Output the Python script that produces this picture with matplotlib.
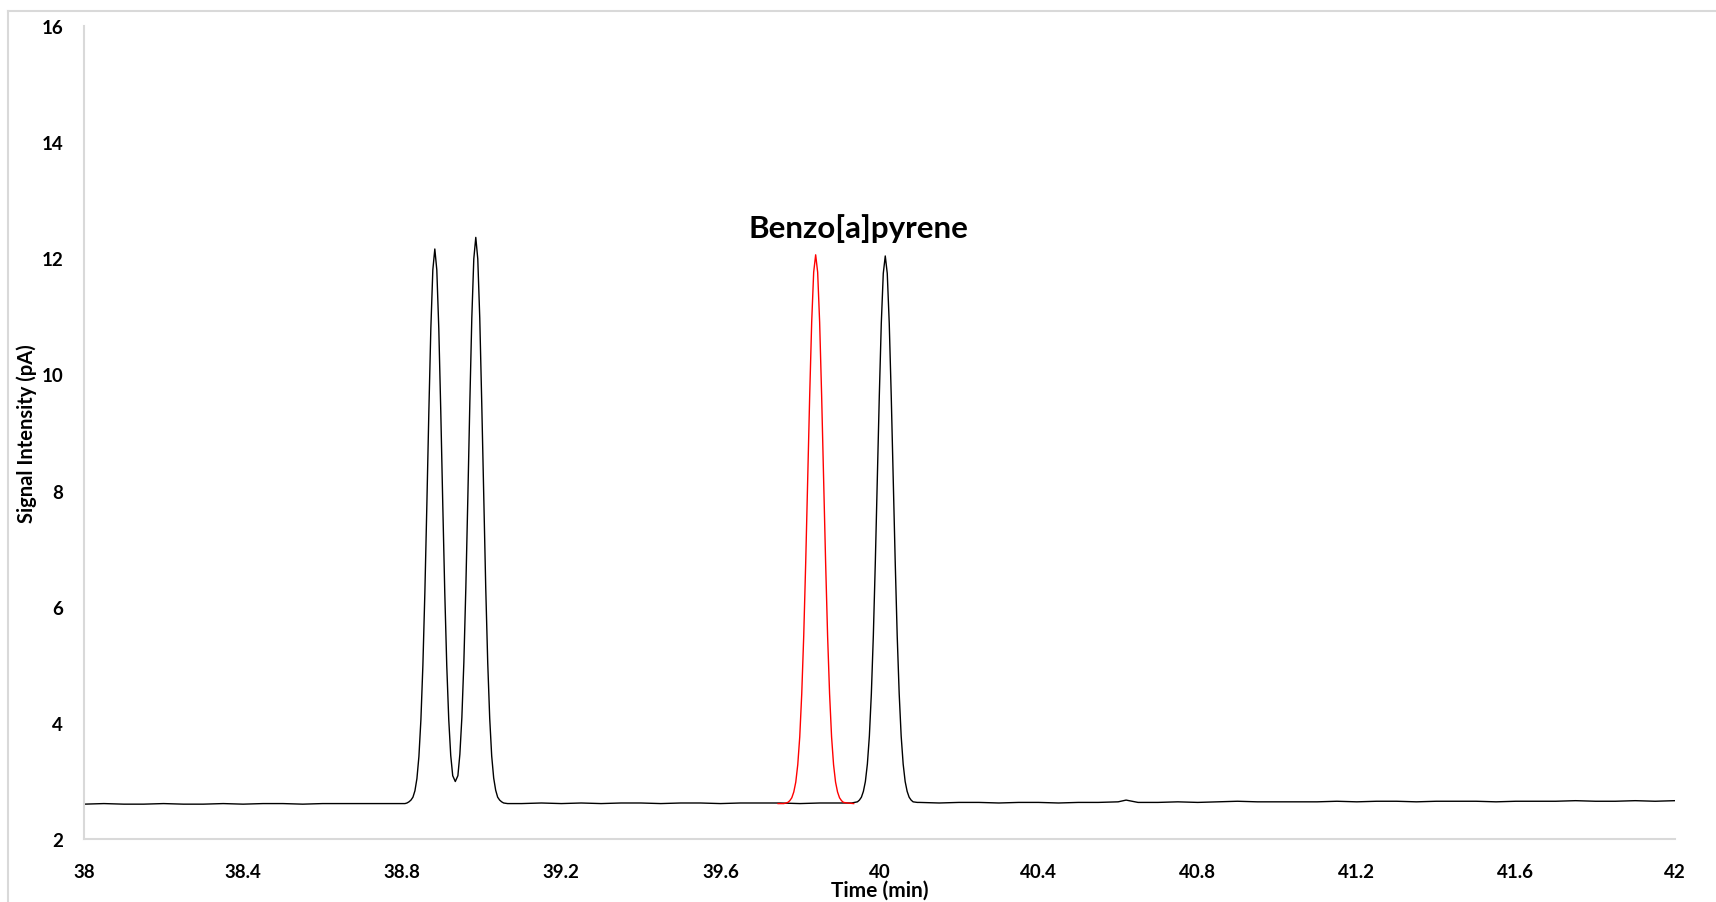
import matplotlib.pyplot as plt
from matplotlib.lines import Line2D

# chromatogram trace (black)
time_min = [38.00, 38.05, 38.10, 38.15, 38.20, 38.25, 38.30, 38.35, 38.40, 38.45,
            38.50, 38.55, 38.60, 38.65, 38.70, 38.75, 38.78, 38.80, 38.807,
            38.812, 38.817, 38.822, 38.827, 38.832, 38.837, 38.842, 38.847, 38.852, 38.857,
            38.862, 38.867, 38.872, 38.877, 38.882, 38.887, 38.892, 38.897, 38.902, 38.907,
            38.912, 38.917, 38.922, 38.927, 38.9335, 38.940, 38.945, 38.950, 38.955, 38.960,
            38.965, 38.970, 38.975, 38.980, 38.985, 38.990, 38.995, 39.000, 39.005, 39.010,
            39.015, 39.020, 39.025, 39.030, 39.035, 39.040, 39.045, 39.050, 39.055, 39.065,
            39.10, 39.15, 39.20, 39.25, 39.30, 39.35, 39.40, 39.45, 39.50, 39.55,
            39.60, 39.65, 39.70, 39.75, 39.80, 39.85, 39.90, 39.93,
            39.9445, 39.9495, 39.9545, 39.9595, 39.9645, 39.9695, 39.9745, 39.9795, 39.9845,
            39.9895, 39.9945, 39.9995, 40.0045, 40.0095, 40.0145, 40.0195, 40.0245, 40.0295,
            40.0345, 40.0395, 40.0445, 40.0495, 40.0545, 40.0595, 40.0645, 40.0695, 40.0745,
            40.0795, 40.0845, 40.095,
            40.10, 40.15, 40.20, 40.25, 40.30, 40.35, 40.40,
            40.45, 40.50, 40.55, 40.60, 40.62, 40.65, 40.70, 40.75, 40.80, 40.85,
            40.90, 40.95, 41.00, 41.05, 41.10, 41.15, 41.20, 41.25, 41.30, 41.35,
            41.40, 41.45, 41.50, 41.55, 41.60, 41.65, 41.70, 41.75, 41.80, 41.85,
            41.90, 41.95, 42.00]
signal_pA = [2.60, 2.61, 2.60, 2.60, 2.61, 2.60, 2.60, 2.61, 2.60, 2.61,
             2.61, 2.60, 2.61, 2.61, 2.61, 2.61, 2.61, 2.61, 2.61,
             2.62, 2.64, 2.67, 2.72, 2.83, 3.04, 3.42, 4.05, 4.99, 6.25,
             7.76, 9.36, 10.79, 11.80, 12.16, 11.80, 10.79, 9.36, 7.76, 6.25,
             4.99, 4.06, 3.44, 3.09, 2.99, 3.09, 3.46, 4.09, 5.04, 6.33,
             7.87, 9.50, 10.97, 11.99, 12.36, 11.99, 10.97, 9.50, 7.87, 6.33,
             5.04, 4.08, 3.43, 3.05, 2.84, 2.72, 2.67, 2.64, 2.62, 2.61,
             2.61, 2.62, 2.61, 2.62, 2.61, 2.62, 2.62, 2.61, 2.62, 2.62,
             2.61, 2.62, 2.62, 2.62, 2.61, 2.62, 2.62, 2.62,
             2.64, 2.67, 2.72, 2.82, 2.99, 3.29, 3.77, 4.50, 5.50,
             6.77, 8.19, 9.63, 10.88, 11.74, 12.04, 11.74, 10.88, 9.63,
             8.19, 6.77, 5.50, 4.50, 3.77, 3.29, 2.99, 2.82, 2.72,
             2.67, 2.64, 2.63,
             2.63, 2.62, 2.63, 2.63, 2.62, 2.63, 2.63,
             2.62, 2.63, 2.63, 2.64, 2.67, 2.63, 2.63, 2.64, 2.63, 2.64,
             2.65, 2.64, 2.64, 2.64, 2.64, 2.65, 2.64, 2.65, 2.65, 2.64,
             2.65, 2.65, 2.65, 2.64, 2.65, 2.65, 2.65, 2.66, 2.65, 2.65,
             2.66, 2.65, 2.66]

# benzo[a]pyrene standard trace (red)
bap_time = [39.745, 39.7595, 39.7695, 39.7745, 39.7795, 39.7845, 39.7895, 39.7945, 39.7995,
            39.8045, 39.8095, 39.8145, 39.8195, 39.8245, 39.8295, 39.8345, 39.8395, 39.8445,
            39.8495, 39.8545, 39.8595, 39.8645, 39.8695, 39.8745, 39.8795, 39.8845, 39.8895,
            39.8945, 39.8995, 39.9045, 39.9095, 39.92, 39.935]
bap_signal = [2.61, 2.61, 2.63, 2.66, 2.71, 2.81, 2.98, 3.28, 3.76,
              4.50, 5.50, 6.77, 8.20, 9.64, 10.90, 11.76, 12.06, 11.76,
              10.90, 9.64, 8.20, 6.77, 5.50, 4.50, 3.76, 3.28, 2.98,
              2.81, 2.71, 2.66, 2.63, 2.62, 2.61]

xticks = [38, 38.4, 38.8, 39.2, 39.6, 40, 40.4, 40.8, 41.2, 41.6, 42]
xtick_labels = ['38', '38.4', '38.8', '39.2', '39.6', '40', '40.4', '40.8', '41.2', '41.6', '42']
yticks = [2, 4, 6, 8, 10, 12, 14, 16]

plt.rcParams['font.family'] = ['Lato', 'DejaVu Sans']
W, H = 1716, 903
fig = plt.figure(figsize=(W / 100, H / 100), dpi=100)

# chart border (only top and left edges show)
grey = '#d9d9d9'
fig.add_artist(Line2D([8 / W, 1], [1 - 12 / H] * 2, transform=fig.transFigure, color=grey, lw=1.5))
fig.add_artist(Line2D([8 / W] * 2, [0, 1 - 12 / H], transform=fig.transFigure, color=grey, lw=1.5))

ax = fig.add_axes([84 / W, 1 - 840 / H, (1675 - 84) / W, (840 - 27) / H])
ax.plot(time_min, signal_pA, color='black', lw=1.0)
ax.plot(bap_time, bap_signal, color='#ff0000', lw=1.0)

ax.set_xlim(38, 42)
ax.set_ylim(2, 16)
ax.set_xticks(xticks)
ax.set_xticklabels(xtick_labels)
ax.set_yticks(yticks)
ax.tick_params(length=0, labelsize=13.5)
ax.tick_params(axis='x', pad=17)
ax.tick_params(axis='y', pad=15)
for lab in ax.get_xticklabels() + ax.get_yticklabels():
    lab.set_fontweight('bold')

for s in ['top', 'right']:
    ax.spines[s].set_visible(False)
for s in ['left', 'bottom']:
    ax.spines[s].set_color(grey)
    ax.spines[s].set_linewidth(1.5)

ax.set_xlabel('Time (min)', fontsize=15, fontweight='bold')
ax.xaxis.set_label_coords(0.5, -0.0625)
ax.xaxis.label.set_va('center')
ax.set_ylabel('Signal Intensity (pA)', fontsize=14.5, fontweight='bold')
ax.yaxis.set_label_coords(-0.0358, 0.5)
ax.yaxis.label.set_va('center')

ax.text(39.946, 12.37, 'Benzo[a]pyrene', fontsize=22.5, fontweight='bold',
        ha='center', va='baseline')

fig.savefig('out.png', dpi=100)
